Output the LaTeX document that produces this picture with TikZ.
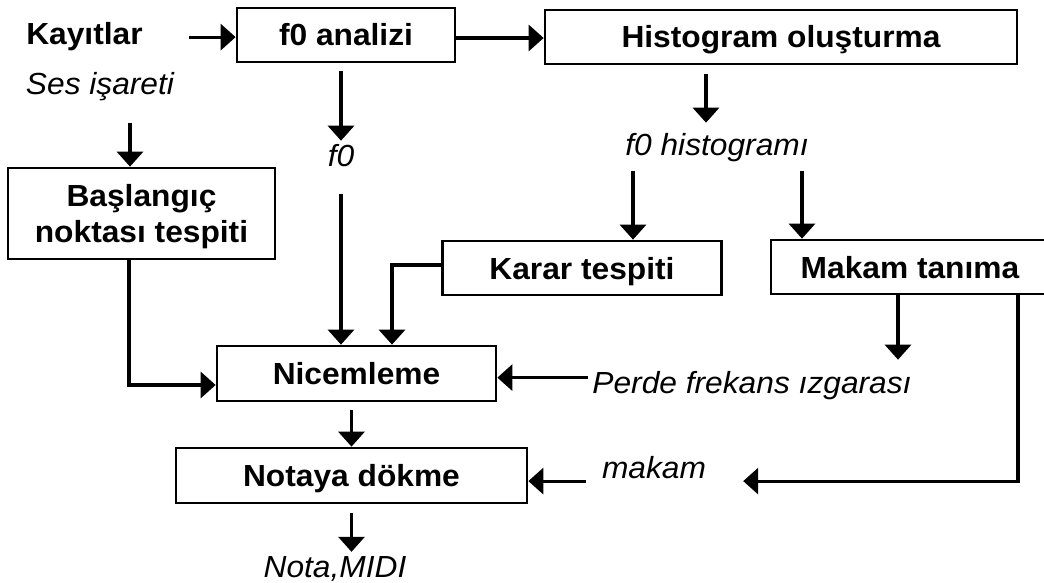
\documentclass[tikz,border=0pt]{standalone}
\usepackage{fontspec}
\setmainfont{Liberation Sans}[FakeStretch=1.04]
\usetikzlibrary{arrows.meta, positioning}

\begin{document}
\begin{tikzpicture}[x=1pt, y=-1pt,
    box/.style={draw, line width=2.7pt, minimum height=54pt, inner sep=0pt,
        text height=22pt, text depth=0pt,
        font=\bfseries\fontsize{30.5}{36}\selectfont},
    lbl/.style={inner sep=0pt, anchor=base, font=\itshape\fontsize{30.5}{36}\selectfont},
    blbl/.style={lbl, font=\bfseries\fontsize{30.5}{36}\selectfont},
    arr/.style={line width=3.2pt, -{Triangle[length=15pt, width=26pt]}}]

    \useasboundingbox (0,0) rectangle (1044,583);

    % Draw the boxes
    \node[box, minimum width=218pt] (analiz) at (346,35) {f0 analizi};
    \node[box, minimum width=472pt] (hist) at (781,37) {Histogram oluşturma};
    \node[box, minimum width=267pt, minimum height=91pt, text height=58pt, align=center] (baslangic) at (141.5,213.5) {Başlangıç\\noktası tespiti};
    \node[box, minimum width=279pt] (karar) at (582,268) {Karar tespiti};
    \node[box, minimum width=278pt] (makam) at (910,267) {Makam tanıma};
    \node[box, minimum width=279pt, minimum height=55pt] (nicem) at (356.5,373.5) {Nicemleme};
    \node[box, minimum width=351pt, minimum height=55pt] (notaya) at (351.5,475.5) {Notaya dökme};

    % Add labels
    \node[blbl] (kayit) at (84.5,45) {Kayıtlar};
    \node[lbl] (ses) at (100,95) {Ses işareti};
    \node[lbl] (f0) at (341,167) {f0};
    \node[lbl] (fhist) at (717,156) {f0 histogramı};
    \node[lbl] (perde) at (752,393) {Perde frekans ızgarası};
    \node[lbl] (makamlbl) at (654,478) {makam};
    \node[lbl] (nota) at (335,577) {Nota,MIDI};

    % Free ends of the side arrows
    \coordinate (p1) at ([yshift=7.5pt]perde.west);
    \coordinate (m1) at ([yshift=-14pt]makamlbl.east);
    \coordinate (m2) at ([yshift=-14pt]makamlbl.west);

    % Draw arrows
    \draw[arr, shorten <=46pt] (kayit.east) -- (kayit.east -| analiz.west);
    \draw[arr] ([yshift=-3pt]analiz.east) -- ([yshift=-1pt]hist.west);
    \draw[arr, shorten <=8pt, shorten >=4pt] (f0.north |- analiz.south) -- (f0.north);
    \draw[arr, shorten <=27pt] (f0.south) -- (f0.south |- nicem.north);
    \draw[arr, shorten <=21pt] ([xshift=30pt]ses.south) -- ([xshift=30pt]ses.south |- baslangic.north);
    \draw[arr] ([xshift=-12.5pt]baslangic.south) |- ([yshift=-11.5pt]nicem.west);
    \draw[arr] ([yshift=3pt]karar.west) -| ([xshift=35.5pt]nicem.north);
    \draw[arr, shorten <=9pt, shorten >=11pt] ([xshift=-75pt]hist.south) -- ([xshift=-75pt]hist.south |- fhist.north);
    \draw[arr, shorten <=8pt] ([xshift=51pt]karar.north |- fhist.south) -- ([xshift=51pt]karar.north);
    \draw[arr, shorten <=8pt] ([xshift=-108pt]makam.north |- fhist.south) -- ([xshift=-108pt]makam.north);
    \draw[arr, shorten >=11pt] ([xshift=-12pt]makam.south) -- ([xshift=-12pt]makam.south |- perde.north);
    \draw[arr, shorten >=37pt] ([xshift=108pt]makam.south) |- (m1);
    \draw[arr, shorten <=4pt] (p1) -- (p1 -| nicem.east);
    \draw[arr, shorten <=16pt] (m2) -- (m2 -| notaya.east);
    \draw[arr, shorten <=8pt] (notaya.north |- nicem.south) -- (notaya.north);
    \draw[arr, shorten <=9pt, shorten >=4pt] (notaya.south) -- (notaya.south |- nota.north);
\end{tikzpicture}
\end{document}
